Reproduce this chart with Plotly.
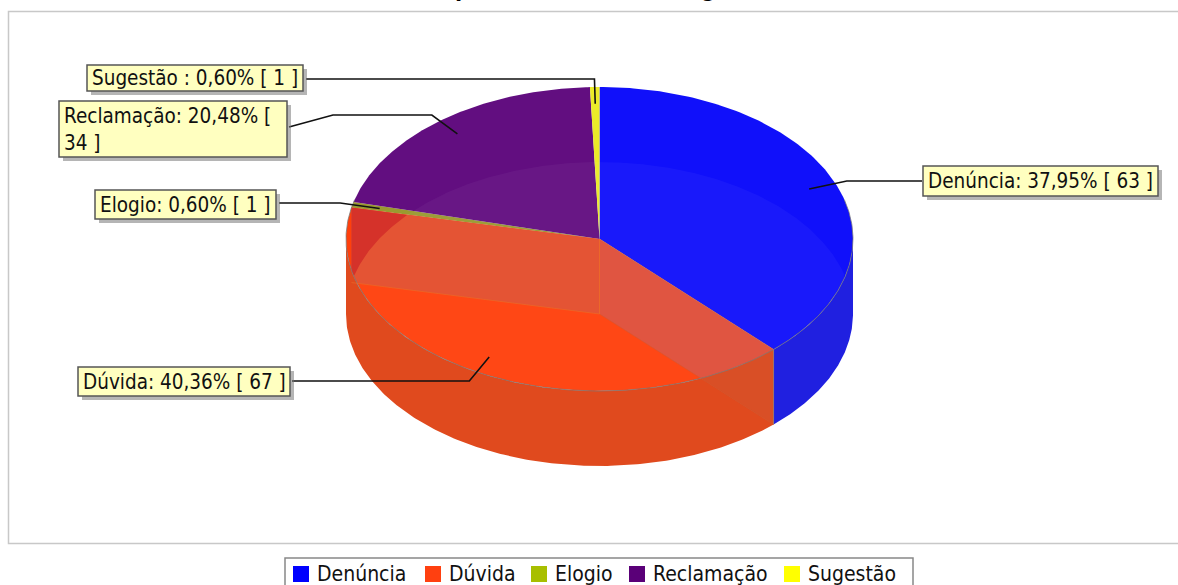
import numpy as np
import plotly.graph_objects as go

categories = ["Denúncia", "Dúvida", "Elogio", "Reclamação", "Sugestão"]
values = [63, 67, 1, 34, 1]
label_text = ["Denúncia: 37,95% [ 63 ]", "Dúvida: 40,36% [ 67 ]", "Elogio: 0,60% [ 1 ]",
              "Reclamação: 20,48% [<br>34 ]", "Sugestão : 0,60% [ 1 ]"]
legend_colors = ["#0000ff", "#ff4010", "#a8bf00", "#5a0078", "#ffff00"]
top_colors = ["#1010fa", "#ff400c", "#9a9a30", "#620e80", "#ebeb28"]
wall_colors = ["#2020e0", "#e04a1e", "#9a9a30", "#620e80", "#ebeb28"]

W, H = 1178, 585
CX, CY, RX, RY, DEPTH = 599.5, 239, 253.5, 152, 75
FONT = "Liberation Sans Narrow, DejaVu Sans Condensed, DejaVu Sans"
TS = 20.5

total = sum(values)
cum = np.cumsum([0] + values) / total * 360.0
fig = go.Figure()


def P(a, dy=0.0, k=1.0):
    a = np.radians(a)
    return CX + k * RX * np.sin(a), CY + dy - k * RY * np.cos(a)


def poly(xs, ys, fill):
    fig.add_trace(go.Scatter(x=list(xs), y=list(ys), mode="lines", fill="toself", fillcolor=fill,
                             line=dict(color="rgba(0,0,0,0)", width=0), hoverinfo="skip", showlegend=False))


def line(xs, ys, color, lw=1.0):
    fig.add_trace(go.Scatter(x=list(xs), y=list(ys), mode="lines", line=dict(color=color, width=lw),
                             hoverinfo="skip", showlegend=False))


def arc_y(x, cy, upper):
    s = np.sqrt(np.clip(1 - ((x - CX) / RX) ** 2, 0, 1))
    return cy - RY * s if upper else cy + RY * s


# top sectors
for i in range(len(values)):
    a = np.linspace(cum[i], cum[i + 1], 160)
    x, y = P(a)
    poly(np.r_[CX, x, CX], np.r_[CY, y, CY], top_colors[i])

# lens: lower ellipse seen through the top face
xs = np.linspace(CX - RX, CX + RX, 400)
up = arc_y(xs, CY + DEPTH, True)
lo = arc_y(xs, CY, False)
m = up <= lo
poly(np.r_[xs[m], xs[m][::-1]], np.r_[up[m], lo[m][::-1]], "rgba(255,255,255,0.04)")

# outer front walls
for i in range(len(values)):
    s, e = max(cum[i], 90.0), min(cum[i + 1], 270.0)
    if e <= s:
        continue
    a = np.linspace(s, e, 200)
    x1, y1 = P(a)
    x2, y2 = P(a, DEPTH)
    poly(np.r_[x1, x2[::-1]], np.r_[y1, y2[::-1]], wall_colors[i])

# radial walls, seen through the top face
a1 = cum[1]
a2 = cum[2]
ex, ey = P(a1)
r = np.linspace(CX, ex, 200)
upper = CY + (r - CX) * (ey - CY) / (ex - CX)
lower = upper + DEPTH
rim = arc_y(r, CY, False)
b = np.minimum(lower, rim)
poly(np.r_[r, r[::-1]], np.r_[upper, b[::-1]], "#e05541")
mw = lower >= rim
poly(np.r_[r[mw], r[mw][::-1]], np.r_[rim[mw], lower[mw][::-1]], "#d94f26")

ex, ey = P(a2)
r = np.linspace(ex, CX, 260)
upper = CY + (r - CX) * (ey - CY) / (ex - CX)
lower = np.minimum(upper + DEPTH, arc_y(r, CY, False))
poly(np.r_[r, r[::-1]], np.r_[upper, lower[::-1]], "#e45434")
ghost = arc_y(r, CY + DEPTH, True)
md = ghost > upper
poly(np.r_[r[md], r[md][::-1]], np.r_[upper[md], np.minimum(ghost, lower)[md][::-1]], "#d5322a")

# edges
A = np.linspace(75, 285, 300)
x, y = P(A)
line(x, y, "rgba(120,120,120,0.75)", 1)
x1, y1 = P(cum[1])
line([x1, x1], [y1, y1 + DEPTH], "rgba(130,130,130,0.7)", 1)
line([CX, x1], [CY, y1], "rgba(200,110,90,0.7)", 1)
line([CX, x1], [CY + DEPTH, y1 + DEPTH], "rgba(210,90,50,0.5)", 1)
x1, y1 = P(cum[2])
line([CX, CX], [CY, CY + DEPTH], "rgba(235,110,40,0.8)", 1)
line([x1, CX], [y1 + DEPTH, CY + DEPTH], "rgba(235,110,40,0.6)", 1)

# leader lines, from each slice's mid angle
label_ends = [(922, 181), (292, 381), (279, 203), (289, 127), (306, 79)]
label_elbow = [None, None, None, (333, 115), None]
for i in range(len(values)):
    mid = (cum[i] + cum[i + 1]) / 2
    ix, iy = P(mid, k=0.89)
    ox, oy = P(mid, k=1.05)
    lx, ly = label_ends[i]
    if label_elbow[i]:
        ex_, ey_ = label_elbow[i]
        line([ix, ox, ex_, lx], [iy, ey_, ey_, ly], "#111111", 1.6)
    else:
        line([ix, ox, lx], [iy, ly, ly], "#111111", 1.6)

shapes = [dict(type="rect", xref="x", yref="y", x0=8.5, x1=1190, y0=11.5, y1=543.5,
               line=dict(color="#c8c8c8", width=1.5), fillcolor="rgba(0,0,0,0)", layer="below")]
annotations = []
boxes = [(923, 166, 1158, 196), (78, 367, 290, 396), (95, 190, 276, 219), (59, 101, 287, 157), (87, 65, 303, 91)]
for i, (x0, y0, x1, y1) in enumerate(boxes):
    shapes.append(dict(type="rect", xref="x", yref="y", x0=x0 + 4, x1=x1 + 4, y0=y0 + 4, y1=y1 + 4,
                       line=dict(width=0), fillcolor="rgba(120,120,120,0.55)", layer="above"))
    shapes.append(dict(type="rect", xref="x", yref="y", x0=x0, x1=x1, y0=y0, y1=y1,
                       line=dict(color="#555555", width=1.5), fillcolor="#ffffc0", layer="above"))
    annotations.append(dict(x=x0 + 3, y=(y0 + y1) / 2, xref="x", yref="y", text=label_text[i], showarrow=False,
                            xanchor="left", yanchor="middle", align="left",
                            font=dict(family=FONT, size=TS, color="#111111")))

# legend
shapes.append(dict(type="rect", xref="x", yref="y", x0=285, x1=913, y0=558, y1=592,
                   line=dict(color="#888888", width=1.5), fillcolor="#ffffff", layer="above"))
leg_sq = [293, 425, 531, 629, 784]
for i, sx in enumerate(leg_sq):
    shapes.append(dict(type="rect", xref="x", yref="y", x0=sx, x1=sx + 16, y0=566, y1=582,
                       line=dict(width=0), fillcolor=legend_colors[i], layer="above"))
    annotations.append(dict(x=sx + 22, y=574, xref="x", yref="y", text=categories[i], showarrow=False,
                            xanchor="left", yanchor="middle",
                            font=dict(family=FONT, size=TS + 0.5, color="#111111")))

# the title is cut off by the top of the page: only two descenders show
for ch, tx in (("p", 463), ("g", 708)):
    annotations.append(dict(x=tx, y=4, xref="x", yref="y", text="<b>%s</b>" % ch, showarrow=False,
                            xanchor="center", yanchor="bottom",
                            font=dict(family="Liberation Sans", size=26, color="#000000")))

fig.update_layout(width=W, height=H, margin=dict(l=0, r=0, t=0, b=0), paper_bgcolor="white", plot_bgcolor="white",
                  xaxis=dict(range=[0, W], visible=False, fixedrange=True),
                  yaxis=dict(range=[H, 0], visible=False, fixedrange=True),
                  shapes=shapes, annotations=annotations, showlegend=False)
fig.write_html("out.html", config={"displayModeBar": False, "staticPlot": True},
               post_script="document.body.style.margin='0';document.body.style.overflow='hidden';")
